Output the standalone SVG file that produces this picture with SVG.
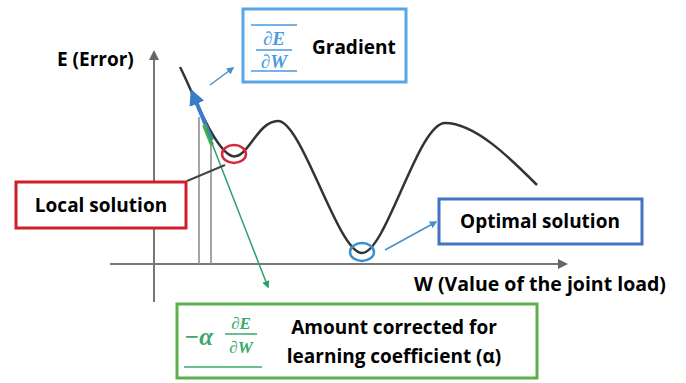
<svg xmlns="http://www.w3.org/2000/svg" width="686" height="383" viewBox="0 0 686 383">
<defs>
<style>
.lbl{font-family:"Open Sans","Liberation Sans",sans-serif;font-weight:700;fill:#000;}
.math{font-family:"Liberation Serif","DejaVu Serif",serif;font-style:italic;font-weight:700;}
.box{fill:#fff;stroke-width:3;}
.axis{stroke:#777;stroke-width:2;fill:none;}
</style>
<marker id="ahGray" viewBox="0 0 10 10" refX="8" refY="5" markerWidth="5" markerHeight="5" orient="auto"><path d="M0,0L10,5L0,10z" fill="#666"/></marker>
<marker id="ahBlue" viewBox="0 0 10 10" refX="8" refY="5" markerWidth="4" markerHeight="4" orient="auto"><path d="M0,0L10,5L0,10z" fill="#3a7cc9"/></marker>
<marker id="ahLtBlue" viewBox="0 0 10 10" refX="8" refY="5" markerWidth="5" markerHeight="5" orient="auto"><path d="M0,0L10,5L0,10z" fill="#4a90c8"/></marker>
<marker id="ahGreen" viewBox="0 0 10 10" refX="8" refY="5" markerWidth="5" markerHeight="5" orient="auto"><path d="M0,0L10,5L0,10z" fill="#2e9e6a"/></marker>
</defs>
<rect width="686" height="383" fill="#fff"/>

<g id="axes">
<line class="axis" x1="154" y1="302" x2="154" y2="52" marker-end="url(#ahGray)"/>
<line class="axis" x1="110" y1="264" x2="566" y2="264" marker-end="url(#ahGray)"/>
<line x1="199" y1="117" x2="199" y2="264" stroke="#888" stroke-width="1.5"/>
<line x1="211" y1="140" x2="211" y2="264" stroke="#888" stroke-width="1.5"/>
<text class="lbl" x="57" y="66" font-size="19">E (Error)</text>
<text class="lbl" x="414" y="291" font-size="19.5">W (Value of the joint load)</text>
</g>

<g id="curve">
<path d="M180,67 C192,90 214,150 232,156 C247,161 257,121 278,121 C302,121 338,253 362,253 C386,253 418,123 445,123 C475,123 510,158 537,185" fill="none" stroke="#333" stroke-width="2.5"/>
<ellipse cx="234" cy="154" rx="12" ry="9" fill="none" stroke="#d42a3a" stroke-width="2.5"/>
<ellipse cx="362" cy="252" rx="12" ry="9" fill="none" stroke="#3a8fcc" stroke-width="2.5"/>
</g>

<g id="connectors">
<line x1="212" y1="140" x2="192" y2="92" stroke="#3a7cc9" stroke-width="4" marker-end="url(#ahBlue)"/>
<line x1="212" y1="145" x2="204" y2="125" stroke="#4cae4c" stroke-width="4"/>
<line x1="206" y1="128" x2="268" y2="287" stroke="#2e9e6a" stroke-width="1.5" marker-end="url(#ahGreen)"/>
<line x1="210" y1="85" x2="233" y2="68" stroke="#4a90c8" stroke-width="1.5" marker-end="url(#ahLtBlue)"/>
<line x1="187" y1="181" x2="225" y2="165" stroke="#444" stroke-width="2"/>
<line x1="385" y1="250" x2="436" y2="222" stroke="#4a90c8" stroke-width="1.5" marker-end="url(#ahLtBlue)"/>
</g>

<g id="gradient">
<rect class="box" x="243" y="9" width="163" height="73" stroke="#5aa5e6"/>
<line x1="251" y1="25" x2="297" y2="25" stroke="#4a9ae0" stroke-width="1.5"/>
<text class="math" x="274" y="45" font-size="19" fill="#4a9ae0" text-anchor="middle">∂E</text>
<line x1="256" y1="50" x2="292" y2="50" stroke="#4a9ae0" stroke-width="1.5"/>
<text class="math" x="274" y="68" font-size="19" fill="#4a9ae0" text-anchor="middle">∂W</text>
<line x1="251" y1="71" x2="297" y2="71" stroke="#4a9ae0" stroke-width="1.5"/>
<text class="lbl" x="312" y="54" font-size="19">Gradient</text>
</g>

<g id="local">
<rect class="box" x="16" y="182" width="170" height="46" stroke="#cc1f2a"/>
<text class="lbl" x="101" y="212" font-size="19" text-anchor="middle">Local solution</text>
</g>

<g id="optimal">
<rect class="box" x="439" y="199" width="203" height="45" stroke="#4472c4"/>
<text class="lbl" x="540" y="228" font-size="19" text-anchor="middle">Optimal solution</text>
</g>

<g id="amount">
<rect class="box" x="177" y="304" width="360" height="74" stroke="#5cb04e"/>
<text class="math" x="184" y="345" font-size="25" fill="#3aa86a">−α</text>
<text class="math" x="241" y="329" font-size="17" fill="#3aa86a" text-anchor="middle">∂E</text>
<line x1="225" y1="334" x2="257" y2="334" stroke="#3aa86a" stroke-width="1.5"/>
<text class="math" x="241" y="353" font-size="17" fill="#3aa86a" text-anchor="middle">∂W</text>
<line x1="184" y1="367" x2="262" y2="367" stroke="#3aa86a" stroke-width="1.5"/>
<text class="lbl" x="394" y="334" font-size="19" text-anchor="middle">Amount corrected for</text>
<text class="lbl" x="394" y="363" font-size="19" text-anchor="middle">learning coefficient (α)</text>
</g>
</svg>
